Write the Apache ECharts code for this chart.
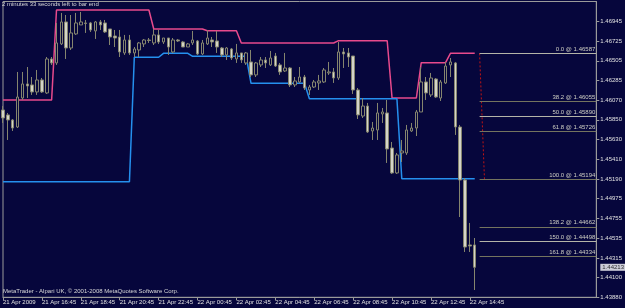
<!DOCTYPE html>
<html><head><meta charset="utf-8">
<script src="https://cdn.jsdelivr.net/npm/echarts@6/dist/echarts.min.js"></script>
<style>html,body{margin:0;padding:0;background:#06063c;}#c{width:625px;height:308px;}</style>
</head><body><div id="c"></div>
<script>
// ---- data ----
const timeframeMinutes = 15;
const startTime = "2009-04-21T14:45";
const totalSlots = 123; // visible bar slots incl. empty space on the right
const xTickLabels = ["21 Apr 2009","21 Apr 16:45","21 Apr 18:45","21 Apr 20:45","21 Apr 22:45","22 Apr 00:45","22 Apr 02:45","22 Apr 04:45","22 Apr 06:45","22 Apr 08:45","22 Apr 10:45","22 Apr 12:45","22 Apr 14:45"];
const xTickEvery = 8;
const yTickValues = [1.46945,1.46725,1.46505,1.46285,1.46070,1.45850,1.45630,1.45410,1.45190,1.44975,1.44755,1.44535,1.44315,1.44100,1.43880];
const yMin = 1.43880, yMax = 1.47163;
// [open, close, low, high]
const candles = [
[1.45959,1.45870,1.45815,1.46003],[1.45904,1.45848,1.45626,1.45926],[1.45848,1.45759,1.45726,1.45859],[1.45770,1.46103,1.45759,1.46381],
[1.46092,1.46248,1.46070,1.46381],[1.46248,1.46225,1.46092,1.46436],[1.46237,1.46159,1.46126,1.46325],[1.46159,1.46292,1.46126,1.46403],
[1.46292,1.46159,1.46148,1.46314],[1.46148,1.46525,1.46137,1.46547],[1.46525,1.46481,1.46459,1.46547],[1.46481,1.46703,1.46459,1.46925],
[1.46692,1.46936,1.46680,1.47036],[1.46936,1.46647,1.46525,1.47013],[1.46647,1.46814,1.46625,1.47013],[1.46803,1.46925,1.46792,1.47036],
[1.46903,1.46936,1.46903,1.47047],[1.46925,1.46919,1.46814,1.46958],[1.46925,1.46847,1.46825,1.46936],[1.46836,1.46936,1.46747,1.46947],
[1.46936,1.46903,1.46847,1.46958],[1.46925,1.46825,1.46814,1.46958],[1.46858,1.46769,1.46680,1.46858],[1.46780,1.46758,1.46658,1.46847],
[1.46769,1.46603,1.46547,1.46847],[1.46592,1.46736,1.46570,1.46792],[1.46736,1.46592,1.46570,1.46792],[1.46592,1.46636,1.46547,1.46658],
[1.46625,1.46703,1.46547,1.46714],[1.46692,1.46736,1.46658,1.46747],[1.46736,1.46730,1.46703,1.46758],[1.46703,1.46792,1.46680,1.46858],
[1.46792,1.46714,1.46692,1.46847],[1.46714,1.46758,1.46692,1.46758],[1.46758,1.46658,1.46570,1.46758],[1.46603,1.46736,1.46592,1.46758],
[1.46736,1.46725,1.46714,1.46747],[1.46714,1.46658,1.46658,1.46725],[1.46658,1.46692,1.46658,1.46703],[1.46703,1.46736,1.46680,1.46836],
[1.46725,1.46581,1.46570,1.46736],[1.46581,1.46703,1.46570,1.46736],[1.46692,1.46758,1.46680,1.46847],[1.46736,1.46714,1.46658,1.46769],
[1.46725,1.46658,1.46592,1.46836],[1.46647,1.46570,1.46547,1.46658],[1.46570,1.46647,1.46514,1.46658],[1.46636,1.46536,1.46514,1.46647],
[1.46525,1.46592,1.46481,1.46692],[1.46592,1.46514,1.46481,1.46592],[1.46481,1.46592,1.46459,1.46603],[1.46492,1.46348,1.46325,1.46625],
[1.46348,1.46481,1.46325,1.46492],[1.46459,1.46514,1.46436,1.46547],[1.46514,1.46481,1.46425,1.46547],[1.46459,1.46536,1.46447,1.46614],
[1.46558,1.46447,1.46436,1.46592],[1.46459,1.46381,1.46348,1.46481],[1.46392,1.46425,1.46381,1.46592],[1.46425,1.46237,1.46214,1.46436],
[1.46237,1.46281,1.46214,1.46325],[1.46270,1.46325,1.46259,1.46436],[1.46325,1.46203,1.46181,1.46348],[1.46181,1.46214,1.46126,1.46237],
[1.46214,1.46270,1.46203,1.46292],[1.46259,1.46281,1.46181,1.46348],[1.46270,1.46403,1.46259,1.46425],[1.46370,1.46381,1.46348,1.46492],
[1.46381,1.46314,1.46259,1.46425],[1.46314,1.46603,1.46292,1.46714],[1.46603,1.46581,1.46425,1.46647],[1.46592,1.46547,1.46436,1.46647],
[1.46558,1.46181,1.46137,1.46558],[1.46181,1.45904,1.45859,1.46203],[1.45892,1.46003,1.45870,1.46092],[1.46003,1.45715,1.45704,1.46037],
[1.45726,1.45759,1.45626,1.45826],[1.45737,1.45926,1.45626,1.46037],[1.45915,1.45937,1.45815,1.45981],[1.45926,1.45526,1.45371,1.46070],
[1.45537,1.45260,1.45249,1.45604],[1.45260,1.45460,1.45249,1.45482],[1.45482,1.45504,1.45382,1.45626],[1.45482,1.45737,1.45460,1.45793],
[1.45726,1.45759,1.45715,1.45815],[1.45759,1.45937,1.45670,1.45959],[1.45937,1.46270,1.45937,1.46436],[1.46270,1.46148,1.46070,1.46325],
[1.46126,1.46314,1.46103,1.46370],[1.46303,1.46103,1.46092,1.46314],[1.46092,1.46270,1.46059,1.46292],[1.46259,1.46447,1.46248,1.46492],
[1.46459,1.46492,1.46325,1.46536],[1.46481,1.45770,1.45682,1.46492],[1.45770,1.45182,1.44771,1.45793],[1.45182,1.44438,1.44383,1.45204],
[1.44461,1.44449,1.44383,1.44705],[1.44461,1.44213,1.43961,1.44538]
];
const upperLine = [
1.46070,1.46070,1.46070,1.46070,1.46070,1.46070,1.46070,1.46070,1.46070,1.46070,1.46070,
1.47069,1.47069,1.47069,1.47069,1.47069,1.47069,1.47069,1.47069,1.47069,1.47069,1.47069,1.47069,1.47069,1.47069,1.47069,1.47069,1.47069,1.47069,1.47069,1.47069,
1.46858,1.46858,1.46858,1.46858,1.46858,1.46858,1.46858,1.46858,1.46858,1.46858,1.46858,
1.46839,1.46839,1.46839,1.46839,1.46839,1.46839,1.46839,
1.46703,1.46703,1.46703,1.46703,1.46703,1.46703,1.46703,1.46703,1.46703,1.46703,1.46703,1.46703,1.46703,1.46703,1.46703,1.46703,1.46703,1.46703,1.46703,1.46703,
1.46728,1.46728,1.46728,1.46728,1.46728,1.46728,1.46728,1.46728,1.46728,1.46728,1.46728,
1.46092,1.46092,1.46092,1.46092,1.46092,1.46092,
1.46484,1.46484,1.46484,1.46484,1.46484,1.46484,
1.46588,1.46588,1.46588,1.46588,1.46588,1.46588
];
const lowerLine = [
1.45163,1.45163,1.45163,1.45163,1.45163,1.45163,1.45163,1.45163,1.45163,1.45163,1.45163,1.45163,1.45163,1.45163,1.45163,1.45163,1.45163,1.45163,1.45163,1.45163,1.45163,1.45163,1.45163,1.45163,1.45163,1.45163,1.45163,
1.46544,1.46544,1.46544,1.46544,1.46544,1.46544,
1.46588,1.46588,1.46588,1.46588,1.46588,1.46588,
1.46555,1.46555,1.46555,1.46555,1.46555,1.46555,1.46555,1.46555,1.46555,1.46555,1.46555,1.46555,
1.46255,1.46255,1.46255,1.46255,1.46255,1.46255,1.46255,1.46255,1.46255,1.46255,1.46255,1.46255,
1.46083,1.46083,1.46083,1.46083,1.46083,1.46083,1.46083,1.46083,1.46083,1.46083,1.46083,1.46083,1.46083,1.46083,1.46083,1.46083,1.46083,1.46083,1.46083,
1.45195,1.45195,1.45195,1.45195,1.45195,1.45195,1.45195,1.45195,1.45195,1.45195,1.45195,1.45195,1.45195,1.45195,1.45195,1.45195
];
const fibLevels = ["0.0","38.2","50.0","61.8","100.0","138.2","150.0","161.8"];
const fibPrices = [1.46587,1.46055,1.45890,1.45726,1.45194,1.44662,1.44498,1.44334];
const fibAnchorSlots = [98, 99];
const currentPrice = 1.44213;
const timerText = "2 minutes 33 seconds left to bar end";
const copyrightText = "MetaTrader - Alpari UK, \u00a9 2001-2008 MetaQuotes Software Corp.";

// ---- build ----
const months = ["Jan","Feb","Mar","Apr","May","Jun","Jul","Aug","Sep","Oct","Nov","Dec"];
const categories = [];
{
  const t0 = new Date(startTime + ":00Z").getTime();
  for (let i = 0; i < totalSlots; i++) {
    const d = new Date(t0 + i * timeframeMinutes * 60000);
    const hh = String(d.getUTCHours()).padStart(2, "0"), mm = String(d.getUTCMinutes()).padStart(2, "0");
    categories.push(d.getUTCDate() + " " + months[d.getUTCMonth()] + " " + hh + ":" + mm);
  }
}
const FONT = "Liberation Sans";
const lightFib = {"0.0":1,"50.0":1,"150.0":1};
const fibMarks = fibPrices.map((p, k) => [
  {coord: [fibAnchorSlots[0], p],
   lineStyle: {color: lightFib[fibLevels[k]] ? "#b4b4a8" : "#74745f", width: 1, type: "solid"},
   label: {show: true, position: "insideEndTop", distance: 1, formatter: fibLevels[k] + " @ " + p.toFixed(5),
           color: "#d0d0c4", fontSize: 6, fontFamily: FONT}},
  {coord: [totalSlots - 1, p]}
]);

const chart = echarts.init(document.getElementById("c"), null, {renderer: "canvas"});
chart.setOption({
  animation: false,
  backgroundColor: "#06063c",
  title: [
    {text: timerText, left: 2, top: 1, padding: 0, textStyle: {color: "#d8d8d8", fontSize: 6, fontWeight: "normal", fontFamily: FONT}},
    {text: copyrightText, left: 3, top: 288, padding: 0, textStyle: {color: "#d8d8d8", fontSize: 6, fontWeight: "normal", fontFamily: FONT}}
  ],
  grid: {left: 2, right: 23, top: 1.5, bottom: 10.7, show: true, borderColor: "#9a9a9a", borderWidth: 1, backgroundColor: "transparent"},
  xAxis: {
    type: "category", data: categories, boundaryGap: false,
    axisLine: {show: true, lineStyle: {color: "#9a9a9a", width: 1}},
    axisTick: {show: true, length: 3, interval: (i) => i % xTickEvery === 0 && i / xTickEvery < xTickLabels.length, lineStyle: {color: "#9a9a9a"}},
    axisLabel: {show: true, interval: (i) => i % xTickEvery === 0 && i / xTickEvery < xTickLabels.length,
      formatter: (v, i) => xTickLabels[i / xTickEvery] || "", align: "left", margin: 2,
      color: "#e0e0e0", fontSize: 6, fontFamily: FONT},
    splitLine: {show: false}
  },
  yAxis: {
    type: "value", position: "right", min: yMin, max: yMax, scale: true,
    axisLine: {show: true, lineStyle: {color: "#9a9a9a"}},
    axisTick: {show: true, length: 3, customValues: yTickValues, lineStyle: {color: "#9a9a9a"}},
    axisLabel: {show: true, customValues: yTickValues, formatter: (v) => v.toFixed(5), margin: 4,
      color: "#e0e0e0", fontSize: 6, fontFamily: FONT},
    splitLine: {show: false}
  },
  series: [
    {type: "line", data: upperLine, showSymbol: false, symbol: "none", z: 2,
     lineStyle: {color: "#e84a8c", width: 1.5}},
    {type: "line", data: lowerLine, showSymbol: false, symbol: "none", z: 2,
     lineStyle: {color: "#2590ee", width: 1.5}},
    {type: "line", data: fibAnchorSlots.map((s, k) => [s, fibPrices[k === 0 ? 0 : 4]]), showSymbol: false, symbol: "none", z: 3,
     lineStyle: {color: "#c01414", width: 1, type: [2, 2]}},
    {type: "candlestick", data: candles, barWidth: 3, z: 4, clip: true,
     itemStyle: {color: "#06063c", color0: "#d4d4c8", borderColor: "#85856e", borderColor0: "#85856e", borderWidth: 1},
     markLine: {silent: true, symbol: ["none", "none"], animation: false, data: fibMarks}},
    {type: "scatter", data: [[totalSlots - 1, currentPrice]], symbolSize: 0, clip: false, z: 6, silent: true,
     label: {show: true, position: "right", distance: 4, formatter: () => currentPrice.toFixed(5), color: "#000000",
             backgroundColor: "#ffffff", padding: [1, 4, 0, 2], fontSize: 6, fontFamily: FONT}}
  ]
});
</script></body></html>
